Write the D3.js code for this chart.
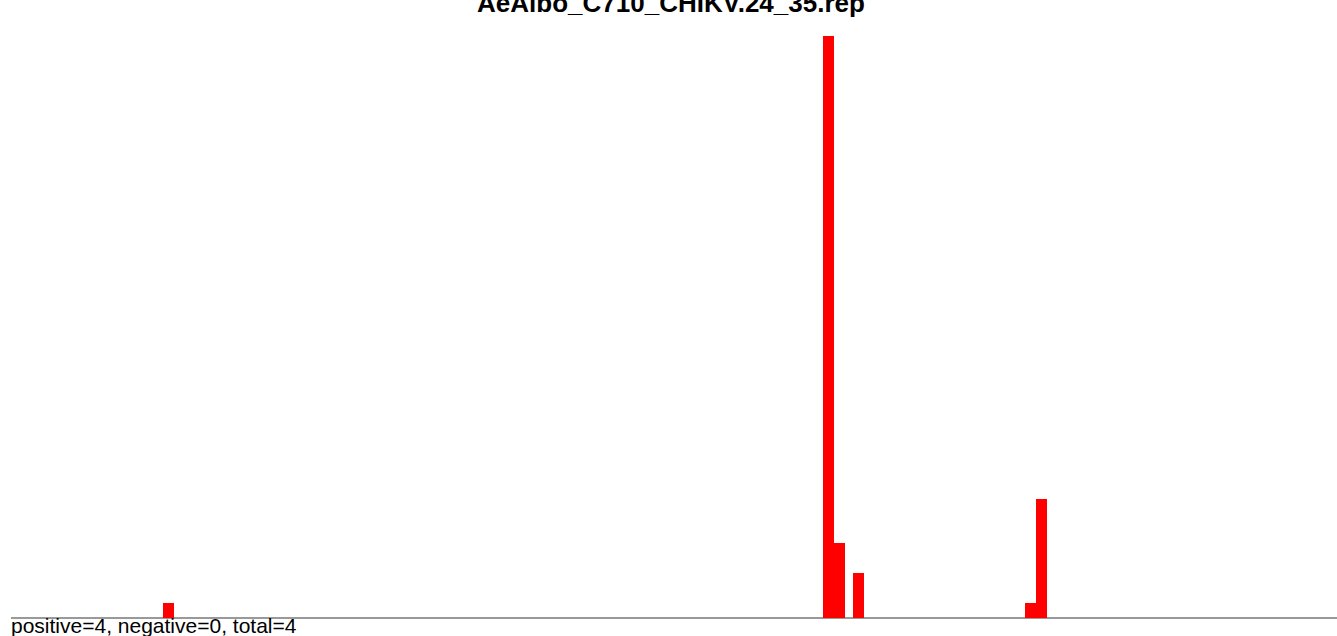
<!DOCTYPE html>
<html><head><meta charset="utf-8">
<script src="https://cdn.jsdelivr.net/npm/d3@7"></script>
<style>body{margin:0;background:#fff;overflow:hidden}</style>
</head><body>
<svg id="c" width="1337" height="636"></svg>
<script>
const title = "AeAlbo_C710_CHIKV.24_35.rep";
const footer = "positive=4, negative=0, total=4";
const positions = [152, 812, 822.7, 842, 1014, 1025];
const counts = [1, 39, 5, 3, 1, 8];
const binWidth = 10.8;
const xDomain = [0, 1326];
const yDomain = [0, 39];

(function(){
const svg = d3.select("#c");
const mLeft = 11, mRight = 1337, mTop = 36, mBase = 618;
const x = d3.scaleLinear().domain(xDomain).range([mLeft, mRight]);
const y = d3.scaleLinear().domain(yDomain).range([mBase, mTop]);

svg.append("text").attr("x", 671).attr("y", 12).attr("text-anchor", "middle")
  .attr("font-family", "Liberation Sans, Arial, sans-serif").attr("font-weight", "bold")
  .attr("font-size", 26).attr("fill", "#000").text(title);

svg.append("line").attr("x1", mLeft).attr("x2", mRight).attr("y1", mBase).attr("y2", mBase)
  .attr("stroke", "#777").attr("stroke-width", 1.3);

const data = positions.map((p, i) => ({p, c: counts[i]}));
svg.selectAll("rect.bar").data(data).enter().append("rect").attr("class", "bar")
  .attr("x", d => x(d.p)).attr("width", d => x(d.p + binWidth) - x(d.p))
  .attr("y", d => y(d.c)).attr("height", d => y(0) - y(d.c))
  .attr("fill", "#ff0000").attr("shape-rendering", "crispEdges");

svg.append("text").attr("x", 11).attr("y", 633).attr("font-family", "Liberation Sans, Arial, sans-serif")
  .attr("font-size", 21).attr("fill", "#000").text(footer);
})();
</script>
</body></html>
